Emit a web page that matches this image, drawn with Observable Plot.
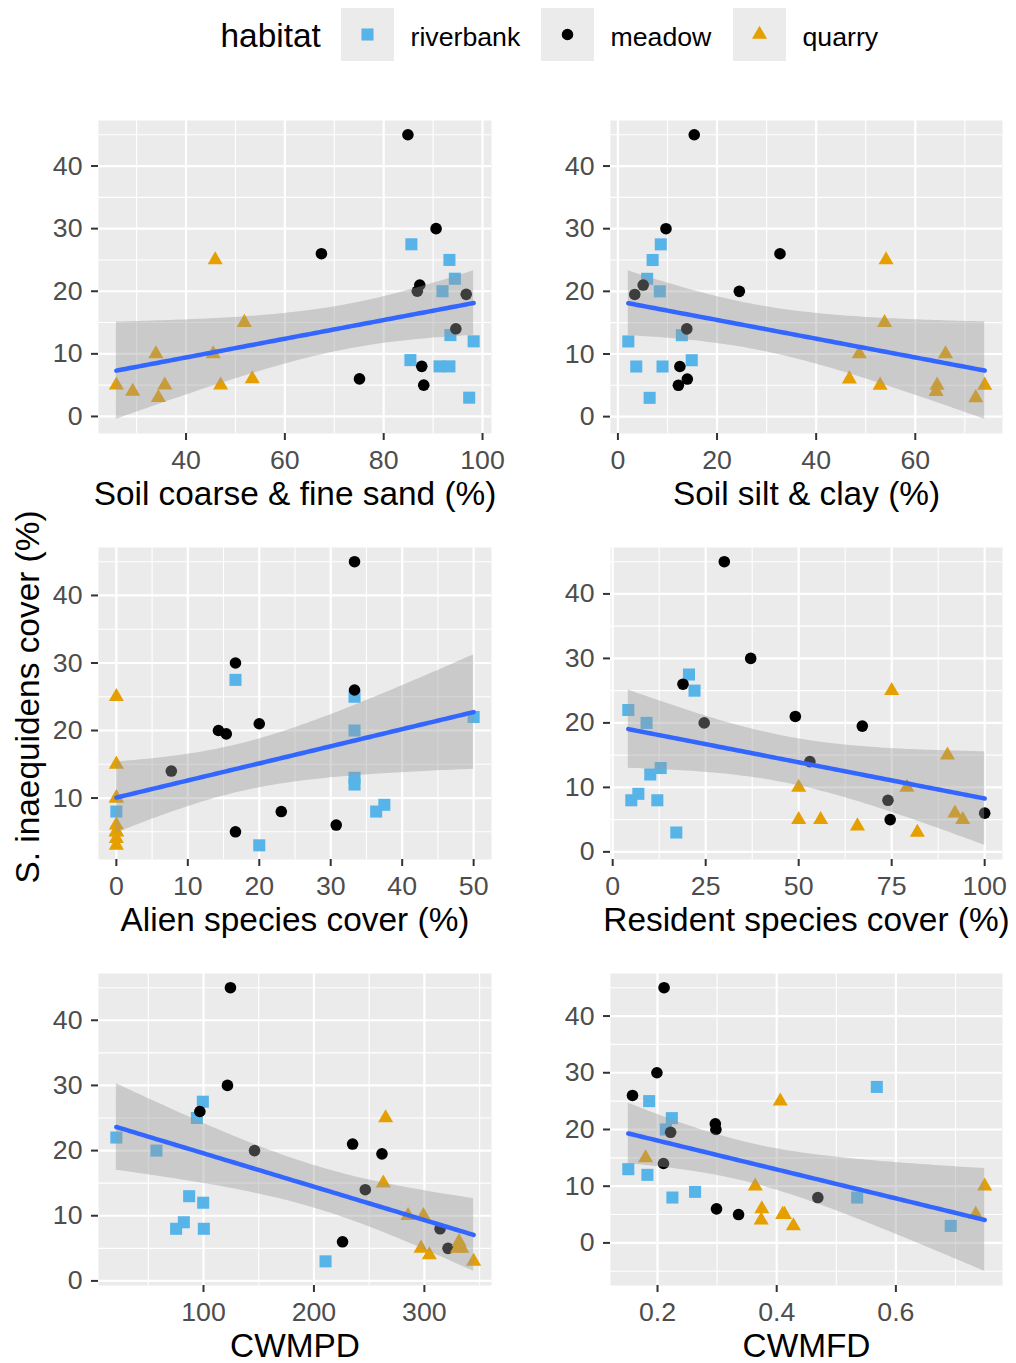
<!DOCTYPE html>
<html>
<head>
<meta charset="utf-8">
<script src="https://cdn.jsdelivr.net/npm/d3@7"></script>
<script src="https://cdn.jsdelivr.net/npm/@observablehq/plot@0.6"></script>
<style>
html, body { margin: 0; padding: 0; background: #ffffff; }
#chart { position: relative; width: 1016px; height: 1363px; font-family: "Liberation Sans", Arial, Helvetica, sans-serif; }
#chart > svg { position: absolute; overflow: visible; }
</style>
</head>
<body>
<div id="chart"></div>
<script>
// ---------------- data (one entry per site) ----------------
const habitats = ["riverbank", "meadow", "quarry"];
const habitatColors = ["#56B4E9", "#000000", "#E69F00"];
const habitatSymbols = ["square", "circle", "triangle"];

const habitat = [
  "riverbank","riverbank","riverbank","riverbank","riverbank","riverbank","riverbank","riverbank","riverbank","riverbank",
  "meadow","meadow","meadow","meadow","meadow","meadow","meadow","meadow","meadow","meadow",
  "quarry","quarry","quarry","quarry","quarry","quarry","quarry","quarry","quarry","quarry"
];
// S. inaequidens cover (%)
const cover = [27.5, 25, 22, 20, 13, 12, 9, 8, 8, 3,
               45, 30, 26, 21, 20, 19.5, 14, 8, 6, 5,
               25, 15, 10, 10, 6, 5, 5, 5, 4, 3];
const sand = [85.6, 93.3, 94.4, 91.9, 93.5, 98.2, 85.4, 91.3, 93.3, 97.3,
              84.9, 90.6, 67.4, 87.3, 86.8, 96.7, 94.6, 87.7, 75.1, 88.1,
              45.9, 51.8, 33.9, 45.5, 53.4, 25.9, 35.7, 47.0, 29.2, 34.4];
const siltClay = [8.65, 7.0, 5.9, 8.45, 12.9, 2.1, 14.9, 3.7, 9.0, 6.4,
                  15.4, 9.7, 32.7, 5.1, 24.5, 3.4, 13.9, 12.5, 14.0, 12.2,
                  54.1, 53.8, 48.7, 66.1, 46.7, 52.9, 64.4, 74.0, 64.2, 72.2];
const alien = [16.67, 33.33, 50, 33.33, 33.33, 33.33, 37.5, 36.36, 0, 20,
               33.33, 16.67, 33.33, 20, 14.29, 15.38, 7.69, 23.08, 30.77, 16.67,
               0, 0, 0, 0, 0, 0, 0, 0, 0, 0];
const resident = [20.5, 22.0, 4.2, 9.1, 12.9, 10.1, 6.9, 5.0, 12.0, 17.1,
                  30.0, 37.1, 18.9, 49.1, 24.6, 67.1, 53.0, 74.0, 100, 74.6,
                  75, 90, 50, 79.1, 92.0, 50, 55.9, 94.1, 65.8, 81.9];
const cwmpd = [99.4, 94.0, 21.1, 57.4, 87.0, 99.7, 82.2, 75.2, 100.3, 210.5,
               124.4, 121.7, 96.7, 235.0, 146.2, 261.6, 246.5, 314.2, 225.9, 321.4,
               264.9, 262.8, 285.2, 299.1, 331.4, 297.0, 333.8, 330.0, 304.5, 344.6];
const cwmfd = [0.568, 0.186, 0.224, 0.214, 0.151, 0.183, 0.263, 0.225, 0.535, 0.692,
               0.211, 0.199, 0.158, 0.297, 0.298, 0.222, 0.210, 0.469, 0.299, 0.336,
               0.406, 0.180, 0.364, 0.749, 0.375, 0.413, 0.734, 0.410, 0.374, 0.428];

const panelTitles = ["Soil coarse & fine sand (%)", "Soil silt & clay (%)",
                     "Alien species cover (%)", "Resident species cover (%)",
                     "CWMPD", "CWMFD"];
const panelX = [sand, siltClay, alien, resident, cwmpd, cwmfd];
const xTickValues = [[20, 40, 60, 80, 100], [0, 20, 40, 60], [0, 10, 20, 30, 40, 50],
                     [0, 25, 50, 75, 100], [100, 200, 300], [0.2, 0.4, 0.6]];
const yTickValues = [0, 10, 20, 30, 40];
const yTitle = "S. inaequidens cover (%)";
const legendTitle = "habitat";

// ---------------- layout ----------------
const FONT = '"Liberation Sans", Arial, Helvetica, sans-serif';
const TITLE_SIZE = 33.4, TEXT_SIZE = 26.7;
const colFrame = [[98, 491], [610, 1002]];
const colBox = [[0, 505], [505, 1016]];
const rowFrame = [[120, 433], [547, 859], [973, 1285]];
const rowBox = [[75, 515], [515, 940], [940, 1363]];
const symbolR = {square: 6.8, circle: 5.8, triangle: 5.6};

// linear model with 95% confidence band (like geom_smooth(method = "lm"))
function lmBand(xs, ys, n = 80) {
  const N = xs.length;
  const mx = d3.mean(xs), my = d3.mean(ys);
  let sxx = 0, sxy = 0;
  for (let i = 0; i < N; i++) { sxx += (xs[i] - mx) ** 2; sxy += (xs[i] - mx) * (ys[i] - my); }
  const b = sxy / sxx, a = my - b * mx;
  let sse = 0;
  for (let i = 0; i < N; i++) sse += (ys[i] - a - b * xs[i]) ** 2;
  const s = Math.sqrt(sse / (N - 2));
  const t = 2.048407; // qt(0.975, df = 28)
  const [x0, x1] = d3.extent(xs);
  return d3.range(n).map(k => {
    const x = x0 + (x1 - x0) * k / (n - 1);
    const fit = a + b * x;
    const se = s * Math.sqrt(1 / N + (x - mx) ** 2 / sxx);
    return {x, fit, lo: fit - t * se, hi: fit + t * se};
  });
}
function expand([lo, hi]) { const p = (hi - lo) * 0.05; return [lo - p, hi + p]; }
function inDom(v, dom) { return v >= dom[0] - 1e-9 && v <= dom[1] + 1e-9; }
function minors(ticks, dom) {
  const step = ticks[1] - ticks[0];
  return [ticks[0] - step / 2, ...ticks.map(t => t + step / 2)].filter(v => inDom(v, dom));
}

const chart = document.getElementById("chart");

// y-axis title
const ysvg = d3.select(chart).append("svg").attr("width", 60).attr("height", 1363)
  .style("left", "0px").style("top", "0px");
ysvg.append("text").attr("transform", "translate(38.5,697) rotate(-90)")
  .attr("text-anchor", "middle").attr("font-family", FONT).attr("font-size", TITLE_SIZE)
  .attr("fill", "#000").text(yTitle);

// panels
panelX.forEach((xs, p) => {
  const col = p % 2, row = Math.floor(p / 2);
  const rows = xs.map((x, i) => ({x, cover: cover[i], habitat: habitat[i]}));
  const band = lmBand(xs, cover);
  const xDom = expand(d3.extent(xs));
  const yDom = expand(d3.extent(cover.concat(band.map(d => d.lo), band.map(d => d.hi))));
  const xT = xTickValues[p].filter(v => inDom(v, xDom));
  const yT = yTickValues.filter(v => inDom(v, yDom));
  const [bl, br] = colBox[col], [bt, bb] = rowBox[row];
  const [fl, fr] = colFrame[col], [ft, fb] = rowFrame[row];
  const fmt = d => String(d);
  const marks = [
    Plot.frame({fill: "#EBEBEB", stroke: "none"}),
    Plot.gridX(minors(xT, xDom), {stroke: "#ffffff", strokeOpacity: 1, strokeWidth: 1.1}),
    Plot.gridY(minors(yT, yDom), {stroke: "#ffffff", strokeOpacity: 1, strokeWidth: 1.1}),
    Plot.gridX(xT, {stroke: "#ffffff", strokeOpacity: 1, strokeWidth: 2.2}),
    Plot.gridY(yT, {stroke: "#ffffff", strokeOpacity: 1, strokeWidth: 2.2}),
    Plot.axisX(xT, {tickSize: 7, tickPadding: 10, stroke: "#333333", strokeWidth: 2,
                    fill: "#4D4D4D", fontSize: TEXT_SIZE, tickFormat: fmt, label: null}),
    Plot.axisY(yT, {tickSize: 7, tickPadding: 9, stroke: "#333333", strokeWidth: 2,
                    fill: "#4D4D4D", fontSize: TEXT_SIZE, tickFormat: fmt, label: null})
  ];
  habitats.forEach((h, k) => {
    marks.push(Plot.dot(rows.filter(d => d.habitat === h), {
      x: "x", y: "cover", symbol: habitatSymbols[k], r: symbolR[habitatSymbols[k]],
      fill: habitatColors[k], stroke: "none"
    }));
  });
  marks.push(
    Plot.areaY(band, {x: "x", y1: "lo", y2: "hi", fill: "#999999", fillOpacity: 0.4}),
    Plot.line(band, {x: "x", y: "fit", stroke: "#3366FF", strokeWidth: 4.5}),
    Plot.text([panelTitles[p]], {text: d => d, frameAnchor: "bottom", lineAnchor: "middle", dy: 61,
                                 fontSize: TITLE_SIZE, fill: "#000000"})
  );
  const svg = Plot.plot({
    width: br - bl, height: bb - bt,
    marginLeft: fl - bl, marginRight: br - fr, marginTop: ft - bt, marginBottom: bb - fb,
    style: {fontFamily: FONT, fontSize: TEXT_SIZE + "px", background: "transparent", overflow: "visible"},
    x: {domain: xDom, label: null},
    y: {domain: yDom, label: null},
    marks
  });
  svg.style.position = "absolute";
  svg.style.left = bl + "px";
  svg.style.top = bt + "px";
  chart.appendChild(svg);
});

// legend
const lsvg = d3.select(chart).append("svg").attr("width", 1016).attr("height", 72)
  .style("left", "0px").style("top", "0px");
lsvg.append("text").attr("x", 220.5).attr("y", 46.5).attr("font-family", FONT)
  .attr("font-size", TITLE_SIZE).attr("fill", "#000").text(legendTitle);
const keyX = [341, 541, 733];
const d3sym = {square: d3.symbolSquare, circle: d3.symbolCircle, triangle: d3.symbolTriangle};
habitats.forEach((h, k) => {
  const g = lsvg.append("g");
  g.append("rect").attr("x", keyX[k]).attr("y", 8).attr("width", 53).attr("height", 53).attr("fill", "#EBEBEB");
  const r = symbolR[habitatSymbols[k]];
  g.append("path").attr("transform", `translate(${keyX[k] + 26.5},34.5)`)
    .attr("d", d3.symbol(d3sym[habitatSymbols[k]], Math.PI * r * r)())
    .attr("fill", habitatColors[k]);
  g.append("text").attr("x", keyX[k] + 69.5).attr("y", 45.5).attr("font-family", FONT)
    .attr("font-size", TEXT_SIZE).attr("fill", "#000").text(h);
});
</script>
</body>
</html>
